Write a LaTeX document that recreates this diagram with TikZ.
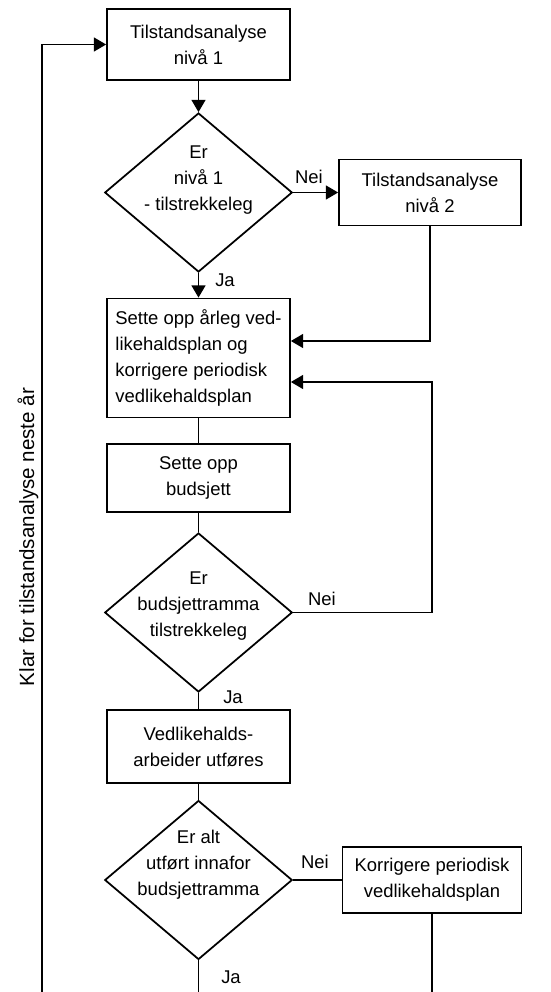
\documentclass[tikz,border=0pt]{standalone}
\usepackage{fontspec}
\setmainfont{Liberation Sans}
\usepackage{tikz}
\usetikzlibrary{arrows,arrows.meta,shapes,positioning}
\tikzset{>={Triangle[length=7pt,width=8pt]}}
\tikzset{boks/.style={draw,line width=1pt,minimum width=3.66cm,align=center}}
\tikzset{dia/.style={draw,diamond,line width=1pt,inner sep=0pt,minimum width=3.75cm,minimum height=3.18cm}}
\begin{document}
\begin{tikzpicture}[line width=0.8pt,font=\fontsize{10.5}{14.8}\selectfont]
\useasboundingbox (0,0) rectangle (11,-19.84);
%Boksar
\node[boks,minimum height=1.42cm] (B1) at (3.97,-0.89) {Tilstandsanalyse\\nivå 1};
\node[dia,label={[align=center,yshift=0.25cm]center:{Er\\nivå 1\\- tilstrekkeleg}}] (D1) at (3.97,-3.85) {};
\node[boks,minimum width=3.64cm,minimum height=1.32cm] (B2) at (8.60,-3.85) {Tilstandsanalyse\\nivå 2};
\node[boks,minimum height=2.38cm,align=left] (B3) at (3.97,-7.16) {Sette opp årleg ved-\\likehaldsplan og\\korrigere periodisk\\vedlikehaldsplan};
\node[boks,minimum height=1.36cm] (B4) at (3.97,-9.56) {Sette opp\\budsjett};
\node[dia,label={[align=center,yshift=0.13cm]center:{Er\\budsjettramma\\tilstrekkeleg}}] (D2) at (3.97,-12.25) {};
\node[boks,minimum height=1.46cm] (B5) at (3.97,-14.93) {Vedlikehalds-\\arbeider utføres};
\node[dia,label={[align=center,yshift=0.3cm]center:{Er alt\\utført innafor\\budsjettramma}}] (D3) at (3.97,-17.6) {};
\node[boks,minimum width=3.58cm,minimum height=1.32cm] (B6) at (8.64,-17.6) {Korrigere periodisk\\vedlikehaldsplan};
%Ja / Nei
\node (N1) at (6.18,-3.54) {Nei};
\node (J1) at (4.5,-5.6) {Ja};
\node (N2) at (6.44,-11.98) {Nei};
\node (J2) at (4.66,-13.94) {Ja};
\node (N3) at (6.3,-17.24) {Nei};
\node (J3) at (4.62,-19.54) {Ja};
\node[rotate=90,font=\fontsize{11.7}{14}\selectfont] (K) at (0.56,-10.74) {Klar for tilstandsanalyse neste år};
%Piler
\coordinate (R) at (8.64,-12.25);
\coordinate (E1) at (0.84,-19.84);
\coordinate (E2) at (3.97,-19.84);
\coordinate (E3) at (8.64,-19.84);
\draw[->] (B1.south)--(D1.north);
\draw[->] (D1.east)--(B2.west);
\draw[->] (D1.south)--(B3.north);
\draw[->] (B2.south) |- ([yshift=0.34cm]B3.east);
\draw (B3.south)--(B4.north);
\draw (B4.south)--(D2.north);
\draw[->] (D2.east)--(R) |- ([yshift=-0.48cm]B3.east);
\draw (D2.south)--(B5.north);
\draw (B5.south)--(D3.north);
\draw (D3.east)--(B6.west);
\draw (B6.south)--(E3);
\draw (D3.south)--(E2);
\draw[->] (E1) |- (B1.west);
\end{tikzpicture}
\end{document}
